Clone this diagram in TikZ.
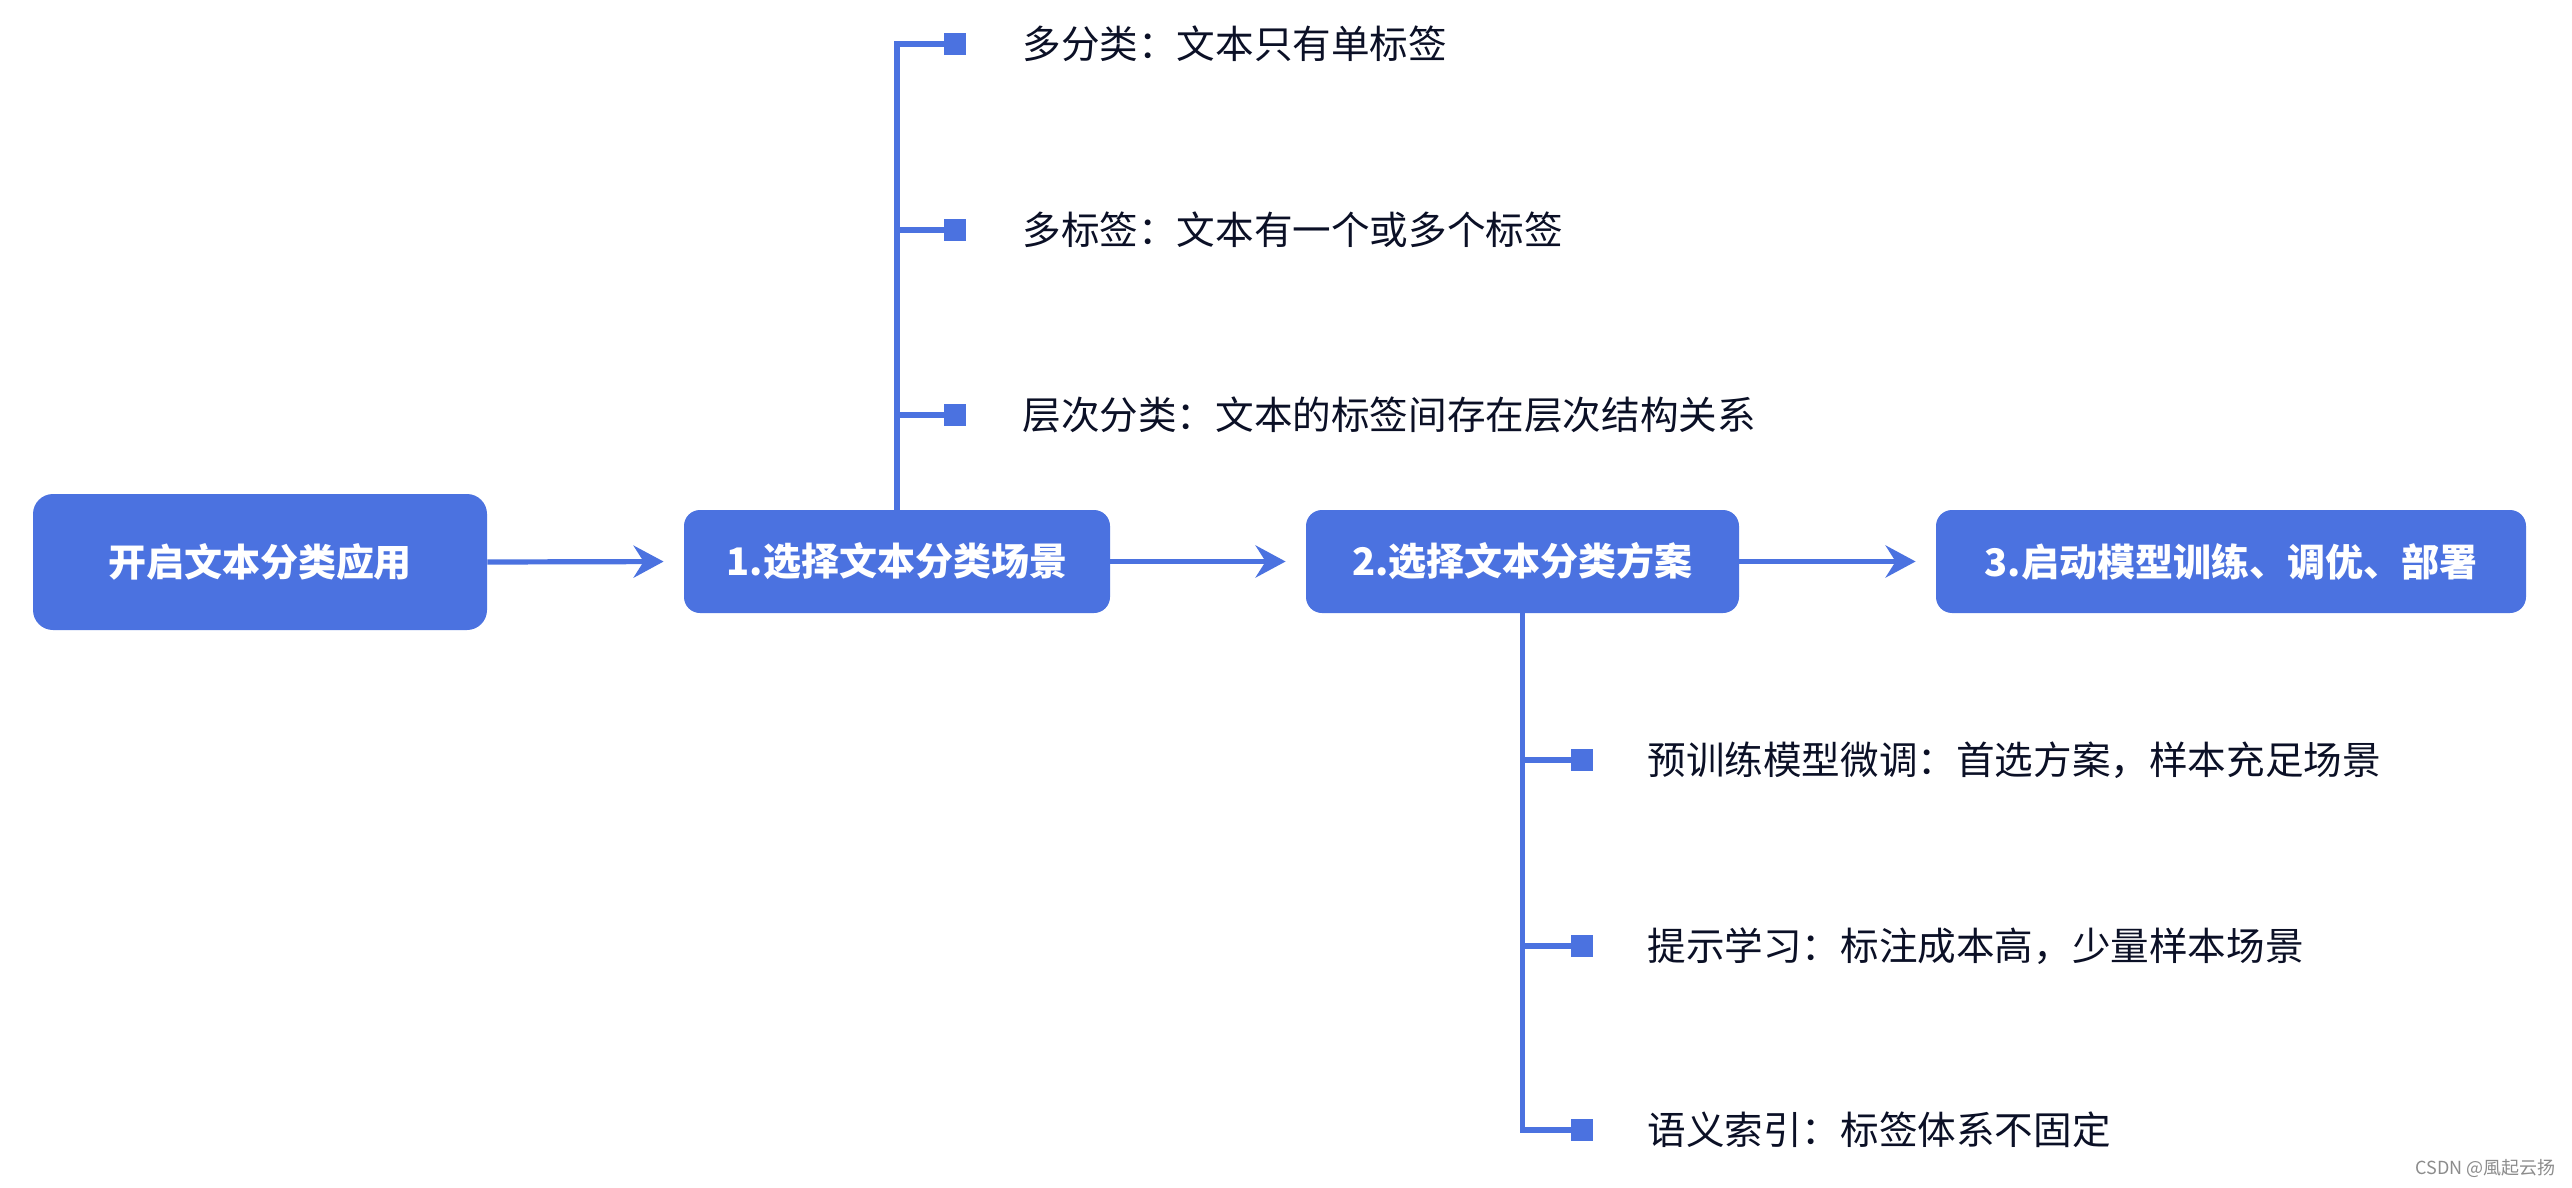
\documentclass[tikz,border=0pt]{standalone}
\usepackage{fontspec}
\setmainfont{Noto Sans CJK SC}
\newfontfamily\cjk{Noto Sans CJK SC}
\usetikzlibrary{arrows.meta}
\definecolor{bblue}{HTML}{4B72E0}
\definecolor{dtext}{HTML}{0B1026}
\tikzset{
  box/.style={fill=bblue, rounded corners=8pt, text=white, inner sep=0pt,
    font=\cjk\bfseries\fontsize{19pt}{23pt}\selectfont, anchor=center},
  conn/.style={draw=bblue, line width=2.6pt},
  arr/.style={conn, -{Stealth[length=15pt,width=16pt,inset=5pt]}, shorten >=10pt},
  sqr/.style={fill=bblue, minimum size=11pt, inner sep=0pt},
  item/.style={anchor=west, inner sep=0pt, text=dtext,
    font=\cjk\fontsize{19.3pt}{23pt}\selectfont}
}
\begin{document}
\begin{tikzpicture}[x=0.5pt,y=-0.5pt]
\fill[white] (0,0) rectangle (2572,1188);
\useasboundingbox (0,0) rectangle (2572,1188);
% main boxes
\node[box, minimum width=227pt, minimum height=68pt, rounded corners=10pt] (b0) at (260,562) {开启文本分类应用};
\node[box, minimum width=213pt, minimum height=51.5pt] (b1) at (897,561.5) {1.选择文本分类场景};
\node[box, minimum width=216.5pt, minimum height=51.5pt] (b2) at (1522.5,561.5) {2.选择文本分类方案};
\node[box, minimum width=295pt, minimum height=51.5pt] (b3) at (2231,561.5) {3.启动模型训练、调优、部署};
% main arrows
\draw[arr] (b0.east) -- (b1.west);
\draw[arr] (b1.east) -- (b2.west);
\draw[arr] (b2.east) -- (b3.west);
% upper branch
\node[sqr] (u1) at (955,44) {};
\node[sqr] (u2) at (955,230) {};
\node[sqr] (u3) at (955,415) {};
\draw[conn] (b1.north) |- (u1.west);
\draw[conn] (b1.north) |- (u2.west);
\draw[conn] (b1.north) |- (u3.west);
\node[item] (ut1) at (1022,44) {多分类：文本只有单标签};
\node[item] (ut2) at (1022,230) {多标签：文本有一个或多个标签};
\node[item] (ut3) at (1022,415) {层次分类：文本的标签间存在层次结构关系};
% lower branch
\node[sqr] (l1) at (1582,760) {};
\node[sqr] (l2) at (1582,946) {};
\node[sqr] (l3) at (1582,1130) {};
\draw[conn] (b2.south) |- (l1.west);
\draw[conn] (b2.south) |- (l2.west);
\draw[conn] (b2.south) |- (l3.west);
\node[item] (lt1) at (1647,760) {预训练模型微调：首选方案，样本充足场景};
\node[item] (lt2) at (1647,946) {提示学习：标注成本高，少量样本场景};
\node[item] (lt3) at (1647,1130) {语义索引：标签体系不固定};
% watermark
\node[anchor=east, inner sep=0pt, text=black!45, font=\cjk\fontsize{9pt}{11pt}\selectfont] (wm) at (2556,1168) {CSDN @風起云扬};
\end{tikzpicture}
\end{document}
